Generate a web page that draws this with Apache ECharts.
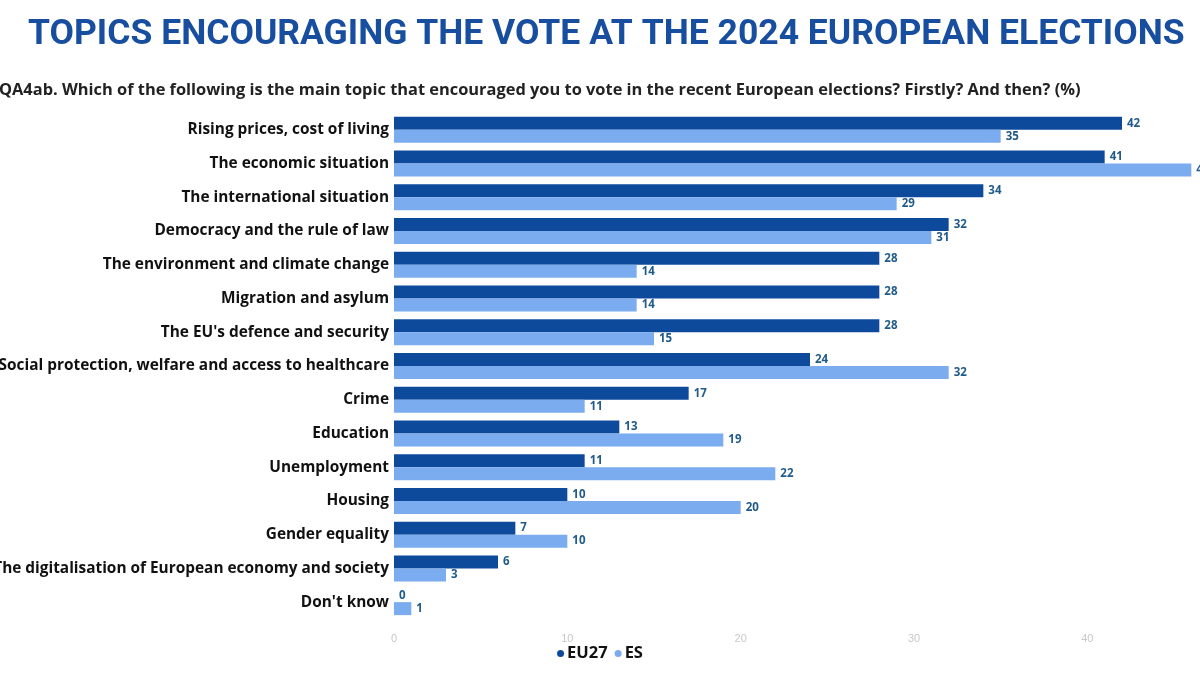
<!DOCTYPE html>
<html>
<head>
<meta charset="utf-8">
<script src="https://cdn.jsdelivr.net/npm/echarts@6/dist/echarts.min.js"></script>
<style>html,body{margin:0;padding:0;background:#fff;overflow:hidden}#c{width:1200px;height:675px}</style>
</head>
<body>
<div id="c"></div>
<script>
const categories = [
  "Rising prices, cost of living",
  "The economic situation",
  "The international situation",
  "Democracy and the rule of law",
  "The environment and climate change",
  "Migration and asylum",
  "The EU's defence and security",
  "Social protection, welfare and access to healthcare",
  "Crime",
  "Education",
  "Unemployment",
  "Housing",
  "Gender equality",
  "The digitalisation of European economy and society",
  "Don't know"
];
const eu27 = [42, 41, 34, 32, 28, 28, 28, 24, 17, 13, 11, 10, 7, 6, 0];
const es = [35, 46, 29, 31, 14, 14, 15, 32, 11, 19, 22, 20, 10, 3, 1];
const seriesNames = ["EU27", "ES"];

const chart = echarts.init(document.getElementById('c'));
const labelStyle = {show: true, position: 'right', distance: 5, color: '#1f5a8a', fontSize: 11.5, fontWeight: 'bold', fontFamily: 'Open Sans'};
chart.setOption({
  animation: false,
  title: [
    {text: 'TOPICS ENCOURAGING THE VOTE AT THE 2024 EUROPEAN ELECTIONS', left: 23, top: 12,
     textStyle: {color: '#184ea0', fontSize: 35.5, fontWeight: 'bold', fontFamily: 'Roboto'}},
    {text: 'QA4ab. Which of the following is the main topic that encouraged you to vote in the recent European elections? Firstly? And then? (%)',
     left: -6, top: 77, textStyle: {color: '#222', fontSize: 16.4, fontWeight: 'bold', fontFamily: 'Open Sans'}}
  ],
  legend: {data: seriesNames, bottom: 8, left: 'center', icon: 'circle', itemWidth: 7, itemHeight: 7, itemGap: 7,
    textStyle: {color: '#111', fontSize: 16.5, fontWeight: 'bold', fontFamily: 'Open Sans', padding: [0, 0, 0, -2]}},
  grid: {left: 394, right: 0, top: 113, bottom: 56, containLabel: false, outerBoundsMode: 'none'},
  xAxis: {type: 'value', min: 0, max: 46.5, interval: 10, splitLine: {show: false}, axisLine: {show: false}, axisTick: {show: false},
    axisLabel: {color: '#c8c8c8', fontSize: 11, margin: 14, showMaxLabel: false}},
  yAxis: {type: 'category', data: categories, inverse: true, axisLine: {show: false}, axisTick: {show: false},
    axisLabel: {color: '#111', fontSize: 15.4, fontWeight: 'bold', fontFamily: 'Open Sans', margin: 5}},
  series: [
    {name: seriesNames[0], type: 'bar', data: eu27, barWidth: 13, barGap: '0%', itemStyle: {color: '#0e4a9c'}, label: labelStyle},
    {name: seriesNames[1], type: 'bar', data: es, barWidth: 13, itemStyle: {color: '#7aacef'}, label: labelStyle}
  ]
});
</script>
</body>
</html>
